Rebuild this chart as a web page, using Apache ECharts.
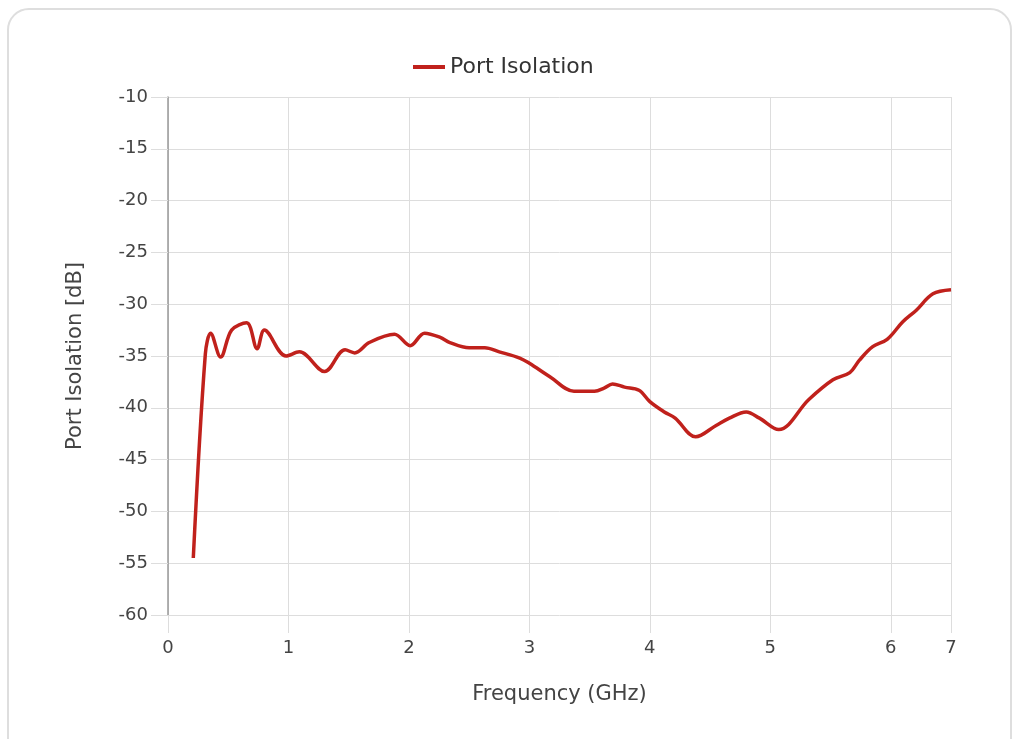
<!DOCTYPE html>
<html>
<head>
<meta charset="utf-8">
<script src="https://cdn.jsdelivr.net/npm/echarts@6/dist/echarts.min.js"></script>
<style>
  html, body { margin: 0; padding: 0; background: #fff; }
  #card {
    position: absolute; left: 7px; top: 8px; width: 1005px; height: 760px;
    border: 2px solid #dedede; border-radius: 22px; box-sizing: border-box;
  }
  #chart { position: absolute; left: 0; top: 0; width: 1030px; height: 739px; }
</style>
</head>
<body>
<div id="card"></div>
<div id="chart"></div>
<script>
// frequency in GHz
const freq = [0.21, 0.31, 0.354, 0.437, 0.528, 0.653, 0.74, 0.80, 0.98, 1.09, 1.30, 1.47, 1.55, 1.67, 1.88,
  2.01, 2.13, 2.26, 2.34, 2.50, 2.63, 2.75, 2.92, 3.0, 3.17, 3.37, 3.54, 3.62, 3.69, 3.79, 3.91,
  4.0, 4.12, 4.21, 4.38, 4.55, 4.66, 4.80, 4.91, 5.07, 5.32, 5.52, 5.66, 5.74, 5.85, 5.97, 6.1,
  6.21, 6.35, 6.5];
// isolation in dB
const isolation = [-54.5, -34.8, -32.8, -35.1, -32.5, -31.8, -34.3, -32.5, -35.0, -34.6, -36.5, -34.4, -34.7, -33.7, -32.9,
  -34.0, -32.8, -33.2, -33.7, -34.2, -34.2, -34.6, -35.2, -35.7, -37.0, -38.4, -38.4, -38.1, -37.7, -38.0, -38.3,
  -39.4, -40.4, -41.0, -42.8, -41.7, -41.0, -40.4, -41.0, -42.1, -39.2, -37.3, -36.6, -35.4, -34.1, -33.4, -31.7,
  -30.6, -29.0, -28.6];

const seriesName = "Port Isolation";
const font = "'DejaVu Sans', sans-serif";

const chart = echarts.init(document.getElementById("chart"), null, { renderer: "canvas" });

chart.setOption({
  animation: false,
  backgroundColor: "transparent",
  textStyle: { fontFamily: font },
  legend: {
    top: 51,
    left: 408,
    itemWidth: 32,
    itemHeight: 4,
    itemGap: 10,
    icon: "rect",
    textStyle: { fontSize: 22, color: "#333", fontFamily: font },
    data: [seriesName]
  },
  grid: { left: 168, right: 79, top: 97, bottom: 124, containLabel: false },
  xAxis: {
    type: "value",
    min: 0,
    max: 6.5,
    interval: 1,
    name: "Frequency (GHz)",
    nameLocation: "middle",
    nameGap: 69,
    nameTextStyle: { fontSize: 21, color: "#444", fontFamily: font },
    axisLine: { show: false },
    axisTick: { show: true, length: 18, lineStyle: { color: "#ddd" } },
    axisLabel: {
      fontSize: 18, color: "#444", margin: 24, fontFamily: font,
      formatter: (v) => String(Math.round(v))
    },
    splitLine: { show: true, lineStyle: { color: "#ddd", width: 1 } }
  },
  yAxis: {
    type: "value",
    min: -60,
    max: -10,
    interval: 5,
    name: "Port Isolation [dB]",
    nameLocation: "middle",
    nameGap: 82,
    nameTextStyle: { fontSize: 21, color: "#444", fontFamily: font },
    axisLine: { show: true, lineStyle: { color: "#999", width: 1.5 } },
    axisTick: { show: true, length: 17, lineStyle: { color: "#ddd" } },
    axisLabel: { fontSize: 18, color: "#444", margin: 20, fontFamily: font },
    splitLine: { show: true, lineStyle: { color: "#ddd", width: 1 } }
  },
  series: [
    {
      name: seriesName,
      type: "line",
      smooth: 0.35,
      showSymbol: false,
      symbol: "none",
      lineStyle: { color: "#c0211c", width: 3.5 },
      itemStyle: { color: "#c0211c" },
      data: freq.map((f, i) => [f, isolation[i]])
    }
  ]
});
</script>
</body>
</html>
